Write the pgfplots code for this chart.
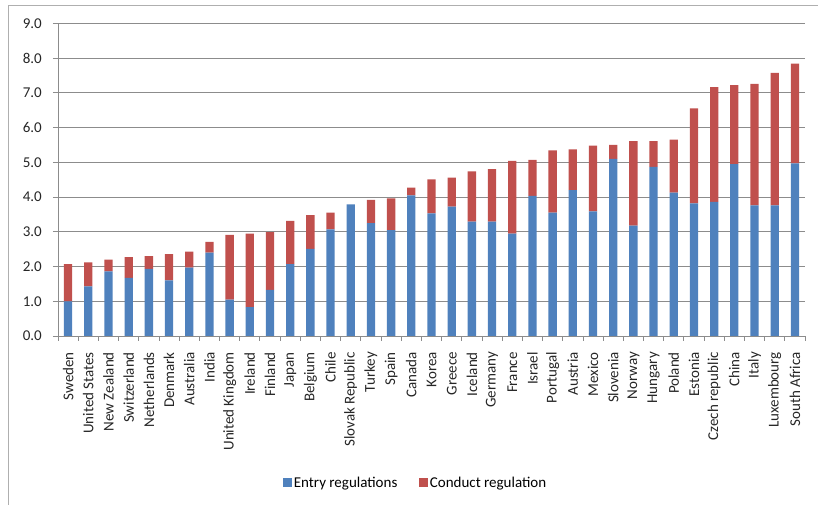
\documentclass[border=0pt]{standalone}
\usepackage{pgfplots}
\pgfplotsset{compat=1.18}
\usepackage{pgfplotstable}
\usepackage{fontspec}
\setmainfont{Carlito}
\definecolor{entryblue}{RGB}{79,129,189}
\definecolor{conductred}{RGB}{192,80,77}
\definecolor{gridgray}{RGB}{140,140,140}
\definecolor{framegray}{RGB}{175,175,175}
\pgfplotstableread{
idx entry conduct
0 1.00 1.07
1 1.43 0.69
2 1.86 0.34
3 1.67 0.60
4 1.93 0.37
5 1.60 0.76
6 1.97 0.46
7 2.40 0.31
8 1.05 1.86
9 0.83 2.12
10 1.33 1.66
11 2.07 1.24
12 2.51 0.97
13 3.07 0.48
14 3.79 0.00
15 3.25 0.67
16 3.05 0.91
17 4.05 0.22
18 3.53 0.98
19 3.72 0.84
20 3.29 1.45
21 3.29 1.51
22 2.95 2.09
23 4.03 1.04
24 3.55 1.79
25 4.20 1.17
26 3.59 1.89
27 5.10 0.40
28 3.18 2.43
29 4.87 0.74
30 4.13 1.52
31 3.82 2.73
32 3.86 3.30
33 4.95 2.27
34 3.76 3.50
35 3.76 3.81
36 4.97 2.87
}\datatable
\begin{document}
\fontsize{15}{18}\selectfont
\begin{tikzpicture}
\useasboundingbox (0,0) rectangle (818pt,505pt);
\draw[framegray, line width=1pt] (8pt,0) -- (8pt,499pt) -- (818pt,499pt);
\begin{axis}[
  at={(58pt,169pt)}, anchor=south west,
  scale only axis,
  width=747pt, height=312.7pt,
  ybar stacked,
  bar width=8.3pt,
  xmin=-0.5, xmax=36.5,
  ymin=0, ymax=9,
  ytick={0,1,...,9},
  xtick={0,...,36},
  xticklabels={Sweden,United States,New Zealand,Switzerland,Netherlands,Denmark,Australia,India,United Kingdom,Ireland,Finland,Japan,Belgium,Chile,Slovak Republic,Turkey,Spain,Canada,Korea,Greece,Iceland,Germany,France,Israel,Portugal,Austria,Mexico,Slovenia,Norway,Hungary,Poland,Estonia,Czech republic,China,Italy,Luxembourg,South Africa},
  minor xtick={-0.5,0.5,...,36.5},
  major x tick style={draw=none},
  minor x tick style={draw=gridgray, line width=0.8pt},
  y tick style={draw=gridgray, line width=0.8pt},
  tick align=outside,
  major tick length=5pt,
  minor tick length=5pt,
  axis x line*=bottom,
  axis y line*=left,
  axis line style={draw=gridgray, line width=0.8pt, -},
  ymajorgrids,
  grid style={draw=gridgray, line width=0.8pt},
  xticklabel style={rotate=90, anchor=east, font=\fontsize{15}{18}\selectfont, yshift=0pt, xshift=-6pt, color=black!85},
  yticklabel style={font=\fontsize{15}{18}\selectfont, color=black!85, xshift=-6pt,
    /pgf/number format/.cd, fixed, fixed zerofill, precision=1},
  /pgf/number format/assume math mode=true,
  legend style={at={(0.479,-0.470)}, anchor=center, draw=none, legend columns=2,
    font=\fontsize{15}{18}\selectfont, column sep=0pt},
  legend image code/.code={\fill[#1] (0pt,-4pt) rectangle (8.5pt,4.5pt);},
  legend cell align=left,
]
\addplot[fill=entryblue, draw=none] table[x=idx, y=entry] {\datatable};
\addlegendentry{Entry regulations\rule{20pt}{0pt}}
\addplot[fill=conductred, draw=none] table[x=idx, y=conduct] {\datatable};
\addlegendentry{Conduct regulation}
\end{axis}
\end{tikzpicture}
\end{document}
